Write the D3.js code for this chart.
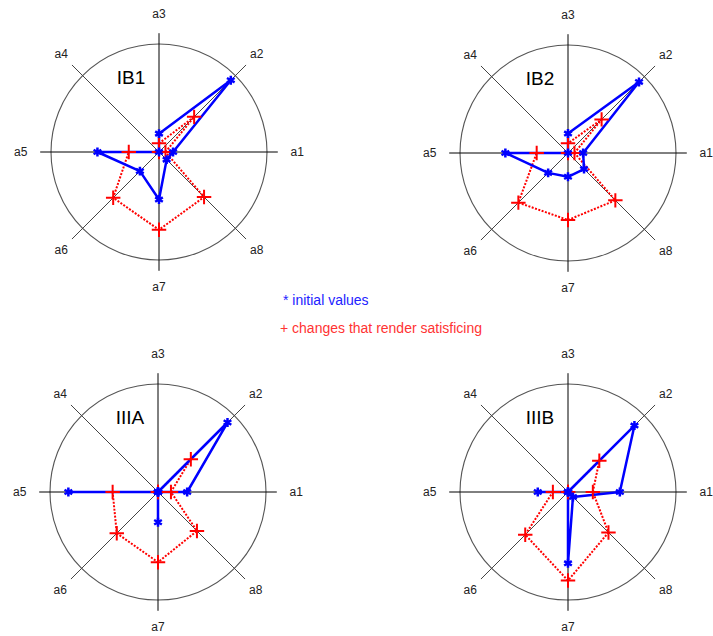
<!DOCTYPE html>
<html>
<head>
<meta charset="utf-8">
<script src="https://cdn.jsdelivr.net/npm/d3@7"></script>
<style>
  body { margin: 0; background: #fff; }
  svg { display: block; font-family: "Liberation Sans", Arial, sans-serif; }
</style>
</head>
<body>
<div class="container"></div>
<script>
// axes, counter-clockwise from east
const axisNames = ["a1", "a2", "a3", "a4", "a5", "a6", "a7", "a8"];
const panelTitles = ["IB1", "IB2", "IIIA", "IIIB"];

// values as fraction of the outer circle, a1..a8
const ib1Initial = [0.13, 0.94, 0.17, 0, 0.57, 0.25, 0.44, 0.10];
const ib1Changes = [0.06, 0.46, 0.08, 0, 0.28, 0.60, 0.72, 0.59];
const ib2Initial = [0.14, 0.93, 0.18, 0, 0.58, 0.26, 0.22, 0.21];
const ib2Changes = [0.06, 0.44, 0.09, 0, 0.29, 0.65, 0.62, 0.62];
const iiiaInitial = [0.27, 0.91, 0, 0, 0.83, 0, 0.28, 0];
const iiiaChanges = [0.12, 0.43, 0, 0, 0.42, 0.54, 0.65, 0.51];
const iiibInitial = [0.48, 0.87, 0, 0, 0.28, 0, 0.66, 0.065];
const iiibChanges = [0.23, 0.41, 0, 0, 0.14, 0.56, 0.82, 0.53];

const legendLabels = ["* initial values", "+ changes that render satisficing"];

const w = 713;
const h = 636;
const R = 108;

const panels = [
  {title: panelTitles[0], cx: 159, cy: 152, initial: ib1Initial, changes: ib1Changes},
  {title: panelTitles[1], cx: 568, cy: 153, initial: ib2Initial, changes: ib2Changes},
  {title: panelTitles[2], cx: 158, cy: 492, initial: iiiaInitial, changes: iiiaChanges},
  {title: panelTitles[3], cx: 568, cy: 492, initial: iiibInitial, changes: iiibChanges}
];

const rScale = d3.scaleLinear().domain([0, 1]).range([0, R]);
// lineRadial angle: 0 = up, clockwise
const angle = (i) => Math.PI / 2 - i * Math.PI / 4;

const svg = d3.select(".container")
              .append("svg")
              .attr("width", w)
              .attr("height", h);

svg.append("rect").attr("width", w).attr("height", h).attr("fill", "#fff");

const radialLine = d3.lineRadial()
                     .angle((d, i) => angle(i))
                     .radius((d) => rScale(d))
                     .curve(d3.curveLinearClosed);

const pos = (v, i) => {
  const a = angle(i);
  return [rScale(v) * Math.sin(a), -rScale(v) * Math.cos(a)];
};

const drawPanel = (p) => {
  const g = svg.append("g").attr("transform", "translate(" + p.cx + "," + p.cy + ")");

  g.append("circle")
   .attr("r", rScale(1))
   .attr("fill", "none")
   .attr("stroke", "#555")
   .attr("stroke-width", 1.1);

  // spokes: cardinal ones a bit shorter than diagonals
  g.selectAll(".spoke")
   .data(axisNames)
   .enter()
   .append("line")
   .attr("class", "spoke")
   .attr("x1", 0).attr("y1", 0)
   .attr("x2", (d, i) => pos(i % 2 ? 1.14 : 1.1, i)[0])
   .attr("y2", (d, i) => pos(i % 2 ? 1.14 : 1.1, i)[1])
   .attr("stroke", (d, i) => i % 2 ? "#444" : "#000")
   .attr("stroke-width", 1);

  g.selectAll(".alabel")
   .data(axisNames)
   .enter()
   .append("text")
   .attr("class", "alabel")
   .attr("x", (d, i) => pos(1.28, i)[0])
   .attr("y", (d, i) => pos(i === 6 ? 1.25 : 1.28, i)[1])
   .attr("text-anchor", "middle")
   .attr("dominant-baseline", "central")
   .attr("font-size", 12)
   .attr("fill", "#222")
   .text((d) => d);

  g.append("text")
   .attr("x", -28)
   .attr("y", -75)
   .attr("text-anchor", "middle")
   .attr("dominant-baseline", "central")
   .attr("font-size", 19)
   .attr("fill", "#000")
   .text(p.title);

  // changes (red, dotted)
  g.append("path")
   .attr("d", radialLine(p.changes))
   .attr("fill", "none")
   .attr("stroke", "#f00")
   .attr("stroke-width", 2)
   .attr("stroke-dasharray", "2,1.5");

  // initial values (blue, solid)
  g.append("path")
   .attr("d", radialLine(p.initial))
   .attr("fill", "none")
   .attr("stroke", "#00f")
   .attr("stroke-width", 2.5)
   .attr("stroke-linejoin", "round");

  g.selectAll(".pchg")
   .data(p.changes)
   .enter()
   .append("path")
   .attr("class", "pchg")
   .attr("transform", (d, i) => "translate(" + pos(d, i) + ")")
   .attr("d", d3.symbol(d3.symbolPlus, 70)())
   .attr("fill", "none")
   .attr("stroke", "#f00")
   .attr("stroke-width", 2);

  g.selectAll(".pini")
   .data(p.initial)
   .enter()
   .append("path")
   .attr("class", "pini")
   .attr("transform", (d, i) => "translate(" + pos(d, i) + ")")
   .attr("d", d3.symbol(d3.symbolAsterisk, 55)())
   .attr("fill", "none")
   .attr("stroke", "#00f")
   .attr("stroke-width", 2.5);
};

panels.forEach(drawPanel);

svg.append("text")
   .attr("x", 283)
   .attr("y", 305)
   .attr("font-size", 14)
   .attr("fill", "#22f")
   .text(legendLabels[0]);

svg.append("text")
   .attr("x", 280)
   .attr("y", 333)
   .attr("font-size", 14)
   .attr("fill", "#f33")
   .text(legendLabels[1]);
</script>
</body>
</html>
